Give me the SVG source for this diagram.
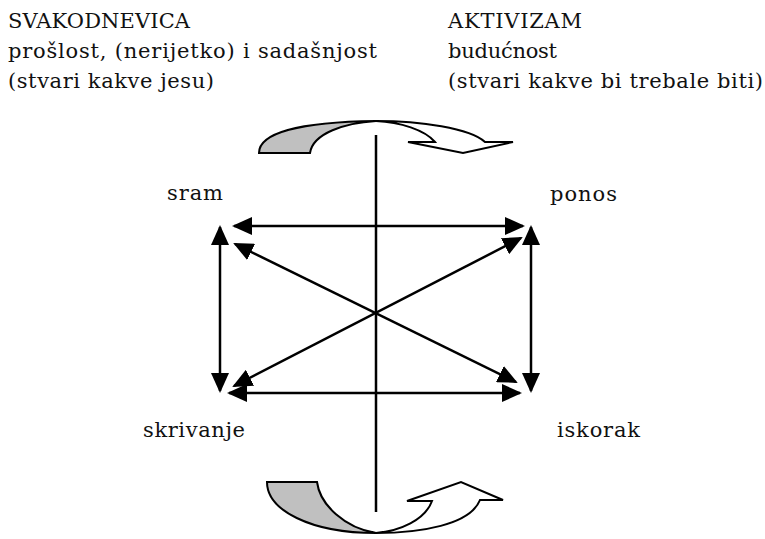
<svg xmlns="http://www.w3.org/2000/svg" width="765" height="539" viewBox="0 0 765 539">
<style>
text{font-family:"DejaVu Serif","Liberation Serif",serif;font-size:21px;fill:#111}
.ln{stroke:#000;stroke-width:2.5;fill:none}
.cv{stroke:#000;stroke-width:2;stroke-linejoin:miter}
</style>
<defs>
<marker id="ah" viewBox="0 0 20 18" refX="18" refY="9" markerWidth="20" markerHeight="18" markerUnits="userSpaceOnUse" orient="auto-start-reverse">
<path d="M0,0 L20,9 L0,18 z" fill="#000"/>
</marker>
</defs>
<rect width="765" height="539" fill="#fff"/>
<g id="header-left">
<text x="8" y="28" textLength="182" lengthAdjust="spacing">SVAKODNEVICA</text>
<text x="8" y="58" textLength="369" lengthAdjust="spacing">prošlost, (nerijetko) i sadašnjost</text>
<text x="8" y="88" textLength="206" lengthAdjust="spacing">(stvari kakve jesu)</text>
</g>
<g id="header-right">
<text x="448" y="28" textLength="134" lengthAdjust="spacing">AKTIVIZAM</text>
<text x="448" y="58" textLength="109" lengthAdjust="spacing">budućnost</text>
<text x="448" y="88" textLength="315" lengthAdjust="spacing">(stvari kakve bi trebale biti)</text>
</g>
<g id="curve-top">
<path class="cv" fill="#fff" d="M376,121 C420,121 470,128 485,142 L513,142 L463,153 L408,142 L435,142 C425,130 400,122 376,121 Z"/>
<path class="cv" fill="#c0c0c0" d="M259,153 C259,133 300,122 376,121 C345,123 313,133 310,153 Z"/>
</g>
<g id="curve-bottom">
<path class="cv" fill="#fff" d="M376,533 C420,533 470,525 480,500 L503,500 L461,482 L407,501 L432,501 C425,520 400,531 376,533 Z"/>
<path class="cv" fill="#c0c0c0" d="M267,482 C267,510 310,533 376,533 C345,528 320,505 317,482 Z"/>
</g>
<g id="axis">
<line class="ln" x1="376" y1="135" x2="376" y2="512" stroke-width="2"/>
</g>
<g id="connectors">
<line class="ln" x1="234" y1="226" x2="523" y2="226" marker-start="url(#ah)" marker-end="url(#ah)"/>
<line class="ln" x1="229" y1="393" x2="520" y2="393" marker-start="url(#ah)" marker-end="url(#ah)"/>
<line class="ln" x1="220" y1="227" x2="220" y2="391" marker-start="url(#ah)" marker-end="url(#ah)"/>
<line class="ln" x1="531" y1="227" x2="531" y2="391" marker-start="url(#ah)" marker-end="url(#ah)"/>
<line class="ln" x1="235" y1="244" x2="516" y2="382" marker-start="url(#ah)" marker-end="url(#ah)"/>
<line class="ln" x1="521" y1="238" x2="234" y2="386" marker-start="url(#ah)" marker-end="url(#ah)"/>
</g>
<g id="node-sram"><text x="167" y="200" textLength="56" lengthAdjust="spacing">sram</text></g>
<g id="node-ponos"><text x="550" y="201" textLength="67" lengthAdjust="spacing">ponos</text></g>
<g id="node-skrivanje"><text x="143" y="437" textLength="102" lengthAdjust="spacing">skrivanje</text></g>
<g id="node-iskorak"><text x="557" y="437" textLength="83" lengthAdjust="spacing">iskorak</text></g>
</svg>
